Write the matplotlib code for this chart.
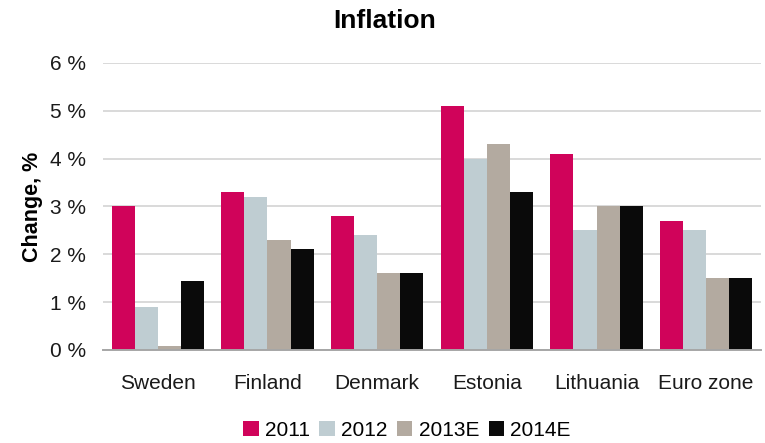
import matplotlib.pyplot as plt
import numpy as np
from matplotlib.ticker import FuncFormatter

plt.rcParams['font.family'] = ['Liberation Sans', 'DejaVu Sans']

countries = ['Sweden', 'Finland', 'Denmark', 'Estonia', 'Lithuania', 'Euro zone']
years = ['2011', '2012', '2013E', '2014E']
v2011 = [3.0, 3.3, 2.8, 5.1, 4.1, 2.7]
v2012 = [0.9, 3.2, 2.4, 4.0, 2.5, 2.5]
v2013 = [0.08, 2.3, 1.6, 4.3, 3.0, 1.5]
v2014 = [1.45, 2.1, 1.6, 3.3, 3.0, 1.5]
colors = ['#D0035A', '#BFCDD2', '#B3AAA0', '#0A0A0A']

fig = plt.figure(figsize=(7.65, 4.43), dpi=100)
ax = fig.add_axes([0.1346, 0.21, 0.8602, 0.648])

x = np.arange(len(countries))
w = 0.21
for i, (vals, c, lab) in enumerate(zip([v2011, v2012, v2013, v2014], colors, years)):
    ax.bar(x + (i - 1.5) * w, vals, width=w, color=c, label=lab, zorder=3)

ax.set_xlim(-0.5, len(countries) - 0.5)
ax.set_ylim(0, 6)
ax.set_yticks(range(0, 7))
ax.yaxis.set_major_formatter(FuncFormatter(lambda v, p: '%d %%' % v))
ax.set_xticks(x)
ax.set_xticklabels(countries)
ax.tick_params(axis='both', length=0, labelsize=15, colors='#1a1a1a')
ax.tick_params(axis='x', pad=17)
ax.tick_params(axis='y', pad=12)
ax.grid(axis='y', color='#D9D9D9', linewidth=1.4, zorder=0)
for s in ['top', 'right', 'left']:
    ax.spines[s].set_visible(False)
ax.spines['bottom'].set_color('#A6A6A6')
ax.spines['bottom'].set_linewidth(1.4)
ax.spines['bottom'].set_zorder(4)

ax.set_ylabel('Change, %', fontsize=15.5, fontweight='bold', labelpad=5)
fig.text(0.503, 0.953, 'Inflation', ha='center', va='center', fontsize=19, fontweight='bold')

fig.legend(loc='center', bbox_to_anchor=(0.532, 0.028), ncol=4, frameon=False,
           fontsize=15, handlelength=0.75, handleheight=0.75, handletextpad=0.3,
           columnspacing=0.45)

fig.savefig('out.png', dpi=100)
